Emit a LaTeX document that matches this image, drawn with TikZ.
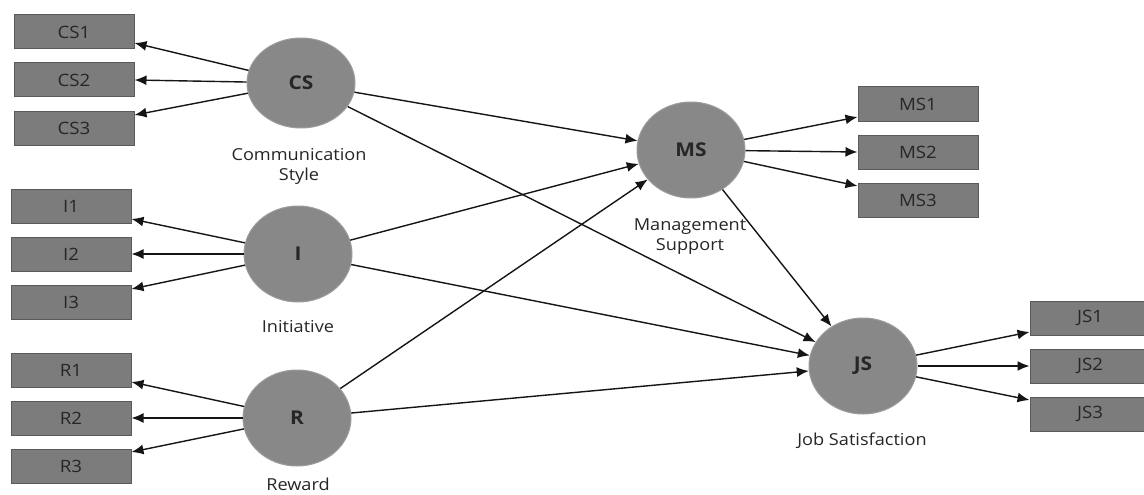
\documentclass[tikz,border=0pt]{standalone}
\usepackage{fontspec}
\setmainfont{Open Sans}[FakeStretch=1.1]
\usetikzlibrary{shapes.geometric,arrows.meta}
\definecolor{boxfill}{HTML}{7C7C7C}
\definecolor{boxdraw}{HTML}{5A5A5A}
\definecolor{latfill}{HTML}{888888}
\definecolor{latdraw}{HTML}{9C9C9C}
\definecolor{txt}{HTML}{262626}
\definecolor{linec}{HTML}{151515}
\begin{document}
\begin{tikzpicture}[x=1pt,y=-1pt,
  lat/.style={ellipse,fill=latfill,draw=latdraw,line width=1pt,minimum width=108pt,minimum height=96pt,inner sep=0pt,font=\fontsize{19}{22}\selectfont\bfseries,text=txt},
  ind/.style={rectangle,fill=boxfill,draw=boxdraw,line width=1pt,minimum width=120pt,minimum height=34pt,inner sep=0pt,font=\fontsize{17}{20}\selectfont,text=txt},
  lbl/.style={anchor=base,font=\fontsize{16.5}{20}\selectfont,text=txt,inner sep=0pt},
  arr/.style={draw=linec,line width=1.4pt,-{Latex[length=12pt,width=10pt]}}
]
\useasboundingbox (0,0) rectangle (1144,495);
\fill[white] (0,0) rectangle (1144,495);

% latent variables
\node[lat,minimum height=90pt] (cs) at (301,83) {CS};
\node[lat] (i) at (298,254) {I};
\node[lat] (r) at (297,418) {R};
\node[lat] (ms) at (691,150) {MS};
\node[lat] (js) at (863,366) {JS};

% indicators
\node[ind] (cs1) at (74,32) {CS1};
\node[ind] (cs2) at (74,80) {CS2};
\node[ind] (cs3) at (74,128) {CS3};
\node[ind] (i1) at (71,206) {I1};
\node[ind] (i2) at (71,254) {I2};
\node[ind] (i3) at (71,302) {I3};
\node[ind] (r1) at (71,370) {R1};
\node[ind] (r2) at (71,418) {R2};
\node[ind] (r3) at (71,466) {R3};
\node[ind] (ms1) at (918,104) {MS1};
\node[ind] (ms2) at (918,152) {MS2};
\node[ind] (ms3) at (918,200) {MS3};
\node[ind] (js1) at (1090,318) {JS1};
\node[ind] (js2) at (1090,366) {JS2};
\node[ind] (js3) at (1090,414) {JS3};

% labels
\node[lbl] (lcs1) at (299,160) {Communication};
\node[lbl] (lcs2) at (299,180) {Style};
\node[lbl] (li) at (298,332) {Initiative};
\node[lbl] (lr) at (298,490) {Reward};
\node[lbl] (lms1) at (690,230) {Management};
\node[lbl] (lms2) at (690,250) {Support};
\node[lbl] (ljs) at (862,445) {Job Satisfaction};

% measurement arrows
\draw[arr] (cs) -- ([yshift=-11pt]cs1.east);
\draw[arr] (cs) -- (cs2.east);
\draw[arr] (cs) -- ([yshift=13pt]cs3.east);
\draw[arr] (i) -- ([yshift=-13pt]i1.east);
\draw[arr] (i) -- (i2.east);
\draw[arr] (i) -- ([yshift=13pt]i3.east);
\draw[arr] (r) -- ([yshift=-12pt]r1.east);
\draw[arr] (r) -- (r2.east);
\draw[arr] (r) -- ([yshift=14pt]r3.east);
\draw[arr] (ms) -- ([yshift=-13pt]ms1.west);
\draw[arr] (ms) -- (ms2.west);
\draw[arr] (ms) -- ([yshift=14pt]ms3.west);
\draw[arr] (js) -- ([yshift=-14pt]js1.west);
\draw[arr] (js) -- (js2.west);
\draw[arr] (js) -- ([yshift=14pt]js3.west);

% structural paths
\draw[arr] (cs) -- (ms);
\draw[arr] (i) -- (ms);
\draw[arr] (r) -- (ms);
\draw[arr] (cs) -- (js);
\draw[arr] (i) -- (js);
\draw[arr] (r) -- (js);
\draw[arr] (ms) -- (js);
\end{tikzpicture}
\end{document}
